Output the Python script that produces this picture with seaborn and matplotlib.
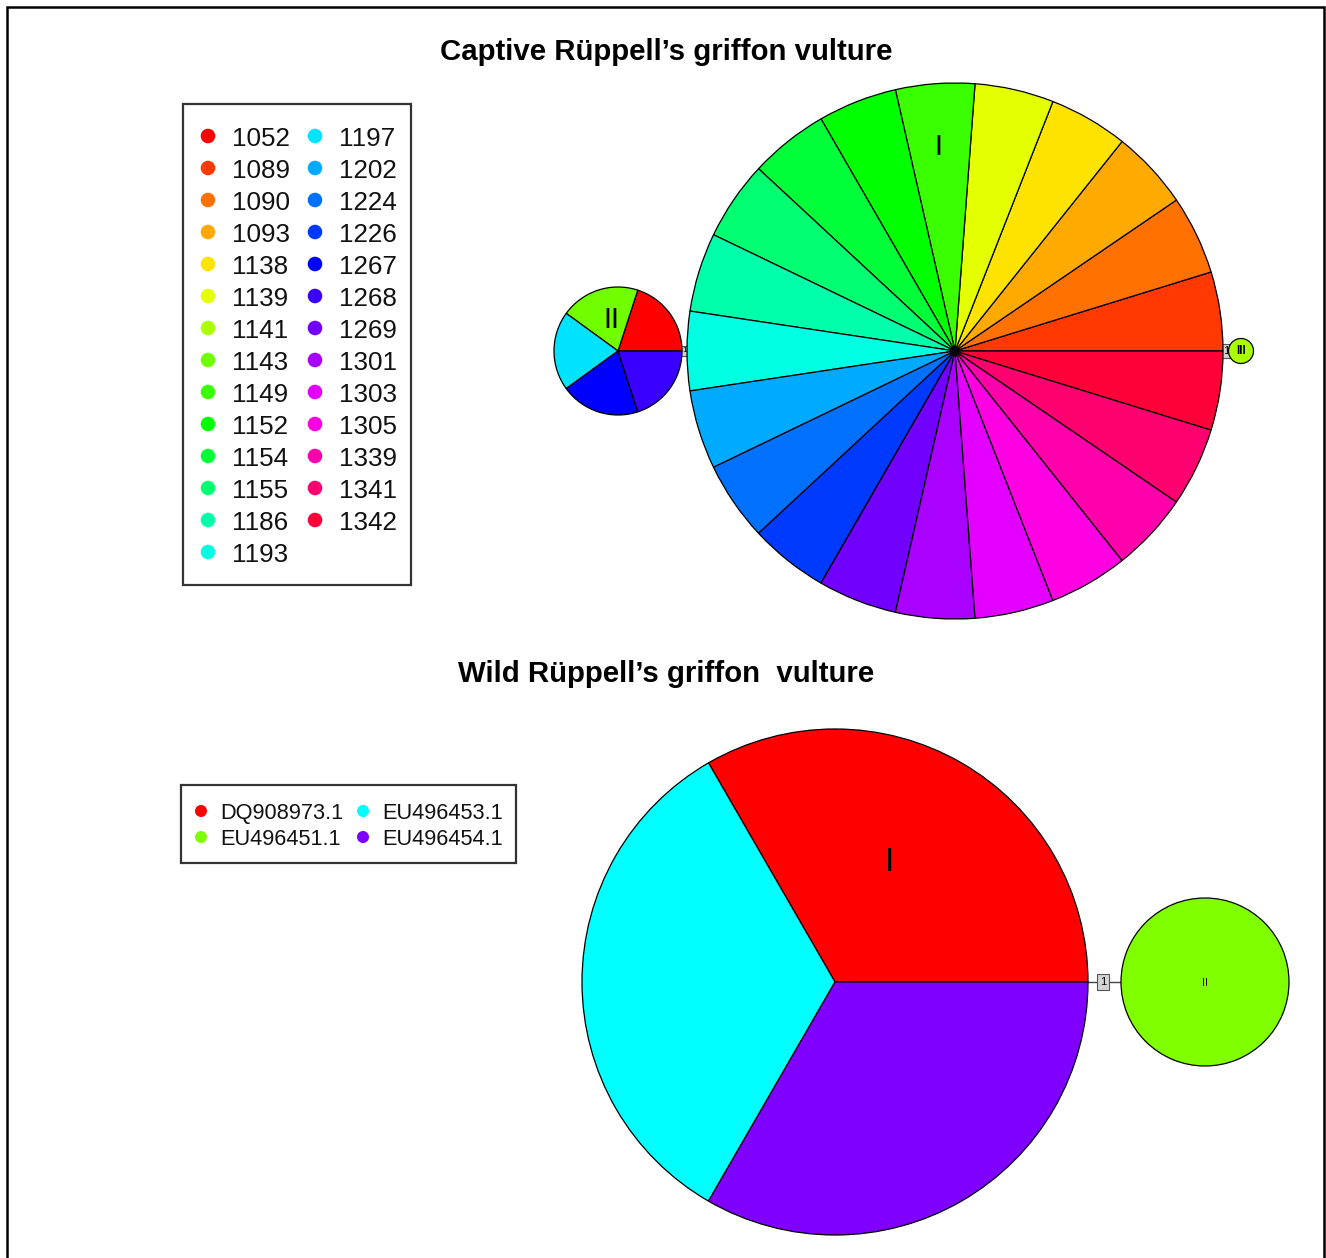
import colorsys
import numpy as np
import pandas as pd
import matplotlib
matplotlib.use("Agg")
import matplotlib.pyplot as plt
from matplotlib.patches import Rectangle
import seaborn as sns

# ---------------- data ----------------
captive_ids = ["1052", "1089", "1090", "1093", "1138", "1139", "1141", "1143", "1149",
               "1152", "1154", "1155", "1186", "1193", "1197", "1202", "1224", "1226",
               "1267", "1268", "1269", "1301", "1303", "1305", "1339", "1341", "1342"]
captive_hap_I = ["1089", "1090", "1093", "1138", "1139", "1149", "1152", "1154", "1155",
                 "1186", "1193", "1202", "1224", "1226", "1269", "1301", "1303", "1305",
                 "1339", "1341", "1342"]
captive_hap_II = ["1052", "1143", "1197", "1267", "1268"]
captive_hap_III = ["1141"]
captive_mutations = [1, 1]          # II-I, I-III

wild_ids = ["DQ908973.1", "EU496451.1", "EU496453.1", "EU496454.1"]
wild_hap_I = ["DQ908973.1", "EU496453.1", "EU496454.1"]
wild_hap_II = ["EU496451.1"]
wild_mutations = [1]

# ---------------- style ----------------
sns.set_theme(style="white")
plt.rcParams['font.family'] = ['Liberation Sans', 'DejaVu Sans']
plt.rcParams['text.color'] = 'black'


def rainbow(n):
    return ["#%02X%02X%02X" % tuple(int(round(c * 255)) for c in colorsys.hsv_to_rgb(i / n, 1, 1))
            for i in range(n)]


cap_col = dict(zip(captive_ids, rainbow(len(captive_ids))))
wild_col = dict(zip(wild_ids, rainbow(len(wild_ids))))

W, H = 1326, 1258
fig = plt.figure(figsize=(W / 100, H / 100), dpi=100)
ax = fig.add_axes([0, 0, 1, 1])


def Y(y):
    return H - y


def pie(members, colmap, cx, cy, r, lw=0.9):
    ax.pie([1] * len(members), colors=[colmap[m] for m in members],
           center=(cx, Y(cy)), radius=r, startangle=0, counterclock=True,
           frame=True, wedgeprops=dict(edgecolor="black", linewidth=lw, zorder=2))


def link(x0, x1, y, xm, n, fs, bw):
    ax.plot([x0, x1], [Y(y), Y(y)], color="#444444", lw=1.0, zorder=0.5)
    ax.text(xm, Y(y), str(n), ha="center", va="center", fontsize=fs, zorder=1,
            bbox=dict(boxstyle="square,pad=%s" % bw, fc="#D3D3D3", ec="#555555", lw=0.8))


# ---------------- captive network ----------------
link(618, 1241, 351, 684.5, captive_mutations[0], 6, 0.15)
link(1223, 1241, 351, 1226.5, captive_mutations[1], 8, 0.15)
pie(captive_hap_I, cap_col, 955, 351, 268)
pie(captive_hap_II, cap_col, 618, 351, 64)
pie(captive_hap_III, cap_col, 1241, 351, 12.5)
ax.text(938, Y(144), "I", ha="center", va="center_baseline", fontsize=21, zorder=5)
ax.text(611, Y(317), "II", ha="center", va="center_baseline", fontsize=21, zorder=5)
ax.text(1241, Y(351), "III", ha="center", va="center", fontsize=8.5, fontweight="bold", zorder=5)

ax.text(666, Y(49), "Captive Rüppell’s griffon vulture", ha="center", va="center_baseline",
        fontsize=21.2, fontweight="bold")

# legend (captive)
n_rows = 14
leg = pd.DataFrame({"id": captive_ids})
leg["col"] = np.arange(len(captive_ids)) // n_rows
leg["row"] = np.arange(len(captive_ids)) % n_rows
leg["x"] = 208 + leg["col"] * 107
leg["y"] = Y(136 + leg["row"] * 32)
sns.scatterplot(data=leg, x="x", y="y", hue="id", palette=cap_col, s=110,
                edgecolor="none", legend=False, ax=ax, zorder=5)
for _, r in leg.iterrows():
    ax.text(r["x"] + 24, r["y"], r["id"], ha="left", va="center_baseline", fontsize=18.7,
            color="#111111")
ax.add_patch(Rectangle((183, Y(585)), 411 - 183, 585 - 104, fill=False,
                       ec="#333333", lw=1.6, zorder=6))

# ---------------- wild network ----------------
link(835, 1205, 982, 1103, wild_mutations[0], 8, 0.25)
pie(wild_hap_I, wild_col, 835, 982, 253)
pie(wild_hap_II, wild_col, 1205, 982, 84)
ax.text(889, Y(859), "I", ha="center", va="center_baseline", fontsize=24, zorder=5)
ax.text(1205, Y(983), "II", ha="center", va="center", fontsize=8, zorder=5)

ax.text(666, Y(671), "Wild Rüppell’s griffon  vulture", ha="center", va="center_baseline",
        fontsize=21.2, fontweight="bold")

wl = pd.DataFrame({"id": wild_ids})
wl["col"] = np.arange(len(wild_ids)) // 2
wl["row"] = np.arange(len(wild_ids)) % 2
wl["x"] = 201 + wl["col"] * 162
wl["y"] = Y(811 + wl["row"] * 26)
sns.scatterplot(data=wl, x="x", y="y", hue="id", palette=wild_col, s=75,
                edgecolor="none", legend=False, ax=ax, zorder=5)
for _, r in wl.iterrows():
    ax.text(r["x"] + 19, r["y"], r["id"], ha="left", va="center_baseline", fontsize=15.7,
            color="#111111")
ax.add_patch(Rectangle((181, Y(863)), 516 - 181, 863 - 785, fill=False,
                       ec="#333333", lw=1.6, zorder=6))

# ---------------- frame ----------------
ax.plot([6.5, 6.5, 1323.5, 1323.5], [0, Y(6.5), Y(6.5), 0], color="black", lw=1.8,
        solid_joinstyle="miter", zorder=10)

ax.set_xlim(0, W)
ax.set_ylim(0, H)
ax.set_aspect("auto")
ax.axis("off")
fig.savefig("out.png", dpi=100, facecolor="white")
